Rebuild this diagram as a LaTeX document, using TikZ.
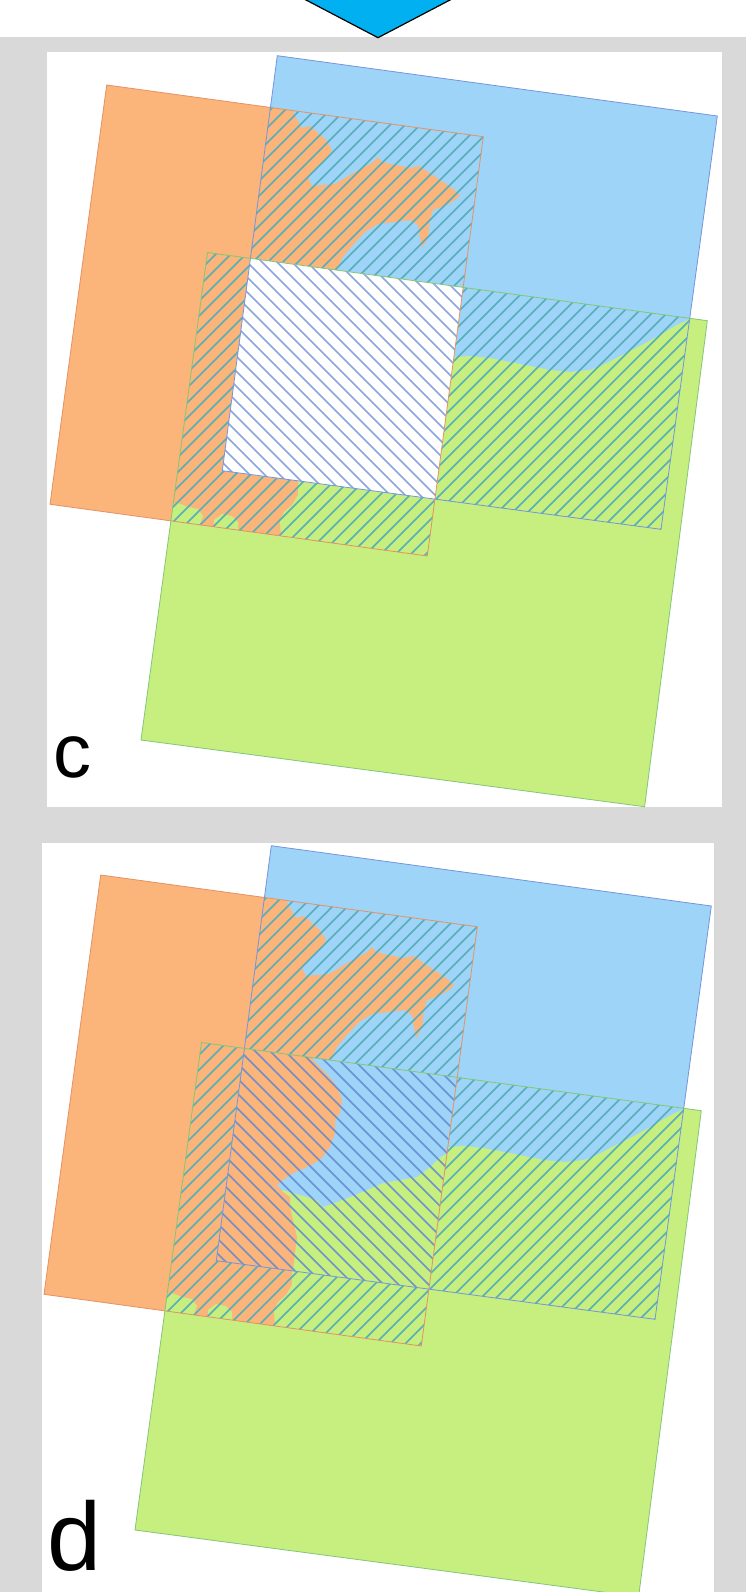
\documentclass[tikz,border=0pt]{standalone}
\usepackage{fontspec}
\newfontfamily\labfont{Liberation Sans}
\definecolor{bgray}{RGB}{217,217,217}
\definecolor{orfill}{RGB}{251,180,122}
\definecolor{blfill}{RGB}{158,212,248}
\definecolor{grfill}{RGB}{198,239,128}
\definecolor{hatchA}{RGB}{86,174,186}
\definecolor{hatchC}{RGB}{140,166,224}
\definecolor{hatchD}{RGB}{100,138,212}
\definecolor{orline}{RGB}{228,146,100}
\definecolor{blline}{RGB}{118,148,220}
\definecolor{grline}{RGB}{130,198,118}
\definecolor{arrowblue}{RGB}{0,176,240}
\tikzset{
  fwdline/.style={draw=hatchA, line width=1.5pt},
  bkc/.style={draw=hatchC, line width=1.5pt},
  bkd/.style={draw=hatchD, line width=1.5pt, opacity=0.9},
  rimO/.style={draw=orline, line width=0.8pt},
  rimB/.style={draw=blline, line width=0.8pt},
  rimG/.style={draw=grline, line width=0.8pt},
  labelstyle/.style={anchor=base west, inner sep=0pt, text=black}
}
\newcommand{\fwdhatch}{\foreach \k in {-820,-805,...,680}{\draw[fwdline] (\k,900) -- ++(900,-900);}}
\newcommand{\bkhatch}[1]{\foreach \k in {-780,-765,...,720}{\draw[#1] (\k,0) -- ++(900,900);}}
\newcommand{\drawpanel}[2]{%
  \coordinate (O1) at (106.7,85);
  \coordinate (O2) at (483.3,136.7);
  \coordinate (O3) at (427.3,556);
  \coordinate (O4) at (50,504.3);
  \coordinate (B1) at (277.3,55.7);
  \coordinate (B2) at (717.3,116);
  \coordinate (B3) at (661,529.3);
  \coordinate (B4) at (222.3,470.7);
  \coordinate (G1) at (207.5,252.5);
  \coordinate (G2) at (707.3,320.7);
  \coordinate (G3) at (644.6,806.7);
  \coordinate (G4) at (141,740);
  \fill[orfill] (O1) -- (O2) -- (O3) -- (O4) -- cycle;
  \fill[blfill] (B1) -- (B2) -- (B3) -- (B4) -- cycle;
  \fill[grfill] (G1) -- (G2) -- (G3) -- (G4) -- cycle;
  % orange / blue overlap
  \begin{scope}
    \clip (O1) -- (O2) -- (O3) -- (O4) -- cycle;
    \clip (B1) -- (B2) -- (B3) -- (B4) -- cycle;
    \fill[blfill] (0,0) rectangle (746,820);
    \fill[orfill] (200,50) -- (292,50) -- (292,110) -- (296,118) -- (302,128) -- (310,126)
      -- (326,140) -- (332,150) -- (326,160) -- (314,170) -- (308,178) -- (312,186)
      -- (335,184) -- (355,172) -- (372,163) -- (378,157) -- (382,162) -- (395,165)
      -- (410,168) -- (420,166) -- (425,170) -- (440,180) -- (452,188) -- (460,195)
      -- (455,200) -- (447,205) -- (433,210) -- (430,220) -- (428,238) -- (422,248)
      -- (420,238) -- (418,225) -- (410,220) -- (395,222) -- (378,224) -- (365,232)
      -- (352,246) -- (342,258) -- (335,275) -- (200,300) -- cycle;
    \fwdhatch
  \end{scope}
  % blue / green overlap
  \begin{scope}
    \clip (B1) -- (B2) -- (B3) -- (B4) -- cycle;
    \clip (G1) -- (G2) -- (G3) -- (G4) -- cycle;
    \fill[blfill] (0,0) rectangle (746,820);
    \fill[grfill] (430,357) -- (454,357) -- (470,356) -- (490,358) -- (510,362) -- (530,366)
      -- (550,370) -- (570,372) -- (590,370) -- (605,364) -- (620,356) -- (640,346)
      -- (660,335) -- (675,326) -- (692,318) -- (740,318) -- (740,600) -- (430,600) -- cycle;
    \fwdhatch
  \end{scope}
  % orange / green overlap
  \begin{scope}
    \clip (O1) -- (O2) -- (O3) -- (O4) -- cycle;
    \clip (G1) -- (G2) -- (G3) -- (G4) -- cycle;
    \fill[orfill] (0,0) rectangle (746,820);
    \fill[grfill] (306,455) -- (300,470) -- (298,478) -- (298,495) -- (292,505) -- (284,512)
      -- (280,520) -- (281,540) -- (300,600) -- (500,600) -- (500,455) -- cycle;
    \fill[grfill] (168,505) -- (178,503) -- (188,507) -- (198,509) -- (203,516) -- (200,524)
      -- (160,530) -- cycle;
    \fill[grfill] (214,520) -- (222,514) -- (232,516) -- (238,522) -- (238,532) -- (214,532) -- cycle;
    \fwdhatch
  \end{scope}
  % triple overlap
  \begin{scope}
    \clip (O1) -- (O2) -- (O3) -- (O4) -- cycle;
    \clip (B1) -- (B2) -- (B3) -- (B4) -- cycle;
    \clip (G1) -- (G2) -- (G3) -- (G4) -- cycle;
    #1
    \bkhatch{#2}
  \end{scope}
  \draw[rimO] (O1) -- (O2) -- (O3) -- (O4) -- cycle;
  \draw[rimB] (B1) -- (B2) -- (B3) -- (B4) -- cycle;
  \draw[rimG] (G1) -- (G2) -- (G3) -- (G4) -- cycle;
}
\newcommand{\triplec}{\fill[white] (0,0) rectangle (746,820);}
\newcommand{\tripled}{%
  \fill[grfill] (0,0) rectangle (746,820);
  \fill[blfill] (200,250) -- (470,250) -- (470,360) -- (456,362) -- (446,367) -- (436,377)
    -- (423,387) -- (406,390) -- (389,393) -- (373,400) -- (356,407) -- (343,412)
    -- (329,417) -- (323,410) -- (313,407) -- (289,400) -- (200,400) -- cycle;
  \fill[orfill] (190,250) -- (316,250) -- (319,270) -- (329,280) -- (338,290) -- (343,297)
    -- (348,310) -- (346,323) -- (341,330) -- (341,343) -- (336,357) -- (326,370)
    -- (313,377) -- (299,383) -- (289,390) -- (283,395) -- (289,402) -- (296,407)
    -- (296,417) -- (299,430) -- (303,447) -- (301,463) -- (299,480) -- (298,520)
    -- (190,520) -- cycle;
}
\begin{document}
\begin{tikzpicture}[x=1pt,y=-1pt]
  \useasboundingbox (0,0) rectangle (746,1592);
  \clip (0,0) rectangle (746,1592);
  \fill[white] (0,0) rectangle (746,37);
  \fill[bgray] (0,37) rectangle (746,1592);
  \fill[white] (47.3,52.3) rectangle (721.7,807.3);
  \fill[white] (42,843) rectangle (714,1592);
  \draw[fill=arrowblue, draw=black, line width=1.2pt, line join=miter]
    (296.5,-5) -- (378,37.7) -- (459.5,-5);
  \begin{scope}
    \drawpanel{\triplec}{bkc}
  \end{scope}
  \begin{scope}[shift={(-6,790)}]
    \drawpanel{\tripled}{bkd}
  \end{scope}
  \node[labelstyle] (labc) at (53,777) {\labfont\fontsize{76}{76}\selectfont c};
  \node[labelstyle] (labd) at (47,1570) {\labfont\fontsize{97}{97}\selectfont d};
\end{tikzpicture}
\end{document}
